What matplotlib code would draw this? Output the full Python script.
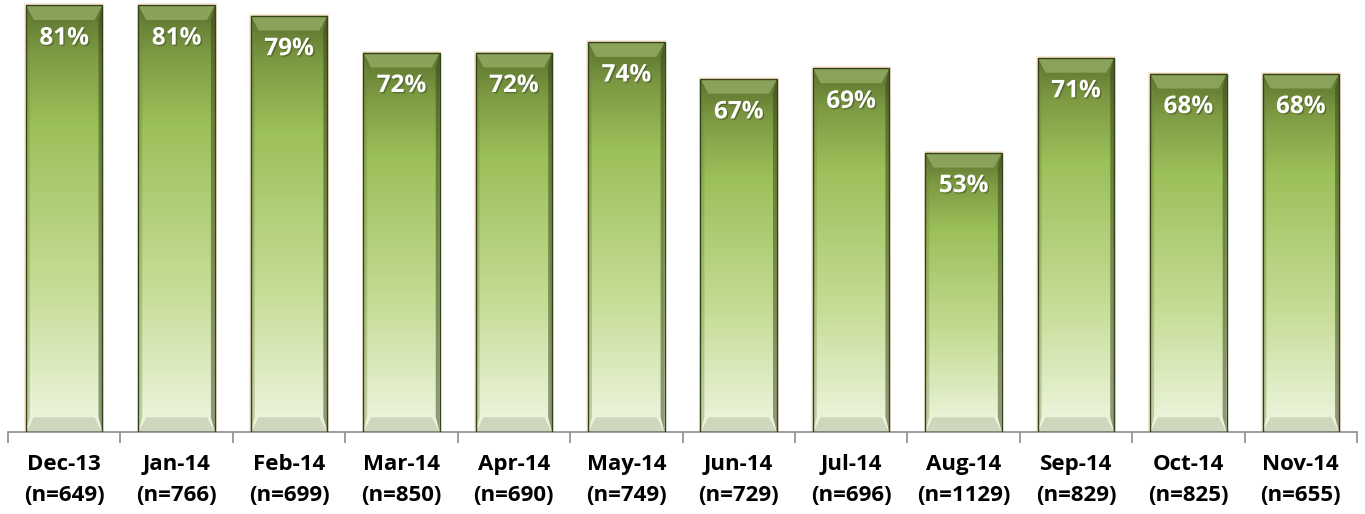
import matplotlib.pyplot as plt
import matplotlib.patches as patches
import matplotlib.patheffects as pe
from matplotlib.colors import LinearSegmentedColormap
import numpy as np

months = ['Dec-13', 'Jan-14', 'Feb-14', 'Mar-14', 'Apr-14', 'May-14',
          'Jun-14', 'Jul-14', 'Aug-14', 'Sep-14', 'Oct-14', 'Nov-14']
sample_sizes = [649, 766, 699, 850, 690, 749, 729, 696, 1129, 829, 825, 655]
shares = [0.81, 0.81, 0.79, 0.72, 0.72, 0.74, 0.67, 0.69, 0.53, 0.71, 0.68, 0.68]

plt.rcParams['font.family'] = ['Open Sans', 'DejaVu Sans']

fig = plt.figure(figsize=(13.65, 5.14), dpi=100)
ax = fig.add_axes([8 / 1365, 82 / 514, 1349 / 1365, 432 / 514])

# gradient: pale at the bottom, bright green, dark olive at the top
bar_cmap = LinearSegmentedColormap.from_list(
    'bar', [(0.0, '#f0f6e2'), (0.35, '#c4dc94'), (0.72, '#9cc05a'),
            (0.88, '#7f9d44'), (1.0, '#5b712d')])
grad = np.linspace(0, 1, 256).reshape(-1, 1)

width = 0.68
x = np.arange(len(months))
for xi, v in zip(x, shares):
    left = xi - width / 2
    # faint orange glow behind the bar
    glow = patches.Rectangle((left - 0.015, 0), width + 0.03, v + 0.004,
                             facecolor='#fbd9c0', edgecolor='none', alpha=0.6, zorder=1)
    ax.add_patch(glow)
    rect = patches.Rectangle((left, 0), width, v, facecolor='none',
                             edgecolor='#34421a', linewidth=1.0, zorder=3)
    ax.add_patch(rect)
    im = ax.imshow(grad, extent=(left, left + width, 0, v), origin='lower',
                   cmap=bar_cmap, aspect='auto', zorder=2)
    im.set_clip_path(rect)
    # bevels
    bev = 0.028
    bx = 0.07
    top_bevel = patches.Polygon([(left, v), (left + width, v), (left + width - bx, v - bev),
                                 (left + bx, v - bev)], closed=True,
                                facecolor='#8fa860', edgecolor='none', alpha=0.9, zorder=2.5)
    ax.add_patch(top_bevel)
    bot_bevel = patches.Polygon([(left, 0), (left + width, 0), (left + width - bx, bev),
                                 (left + bx, bev)], closed=True,
                                facecolor='#c2cbb0', edgecolor='none', alpha=0.7, zorder=2.5)
    ax.add_patch(bot_bevel)
    side_l = patches.Polygon([(left, 0), (left + bx * 0.5, bev), (left + bx * 0.5, v - bev), (left, v)],
                             closed=True, facecolor='#6f8a40', edgecolor='none', alpha=0.35, zorder=2.5)
    side_r = patches.Polygon([(left + width, 0), (left + width - bx * 0.5, bev),
                              (left + width - bx * 0.5, v - bev), (left + width, v)],
                             closed=True, facecolor='#34421a', edgecolor='none', alpha=0.5, zorder=2.5)
    ax.add_patch(side_l)
    ax.add_patch(side_r)
    ax.annotate('{:.0%}'.format(v), (xi, v), xytext=(0, -24), textcoords='offset points',
                ha='center', va='center', color='white', fontsize=17.5, fontweight='bold', zorder=4,
                path_effects=[pe.withSimplePatchShadow(offset=(1, -1), shadow_rgbFace='#3a4a1a', alpha=0.5)])

ax.set_xlim(-0.5, len(months) - 0.5)
ax.set_ylim(0, 0.82)

ax.set_xticks(x)
ax.set_xticklabels(['{}\n(n={})'.format(m, n) for m, n in zip(months, sample_sizes)],
                   fontsize=16, fontweight='bold', linespacing=1.6)
ax.tick_params(axis='x', which='major', length=0, pad=16)
ax.set_xticks(np.arange(-0.5, len(months)), minor=True)
ax.tick_params(axis='x', which='minor', length=8, width=1.2, color='#8c8c8c', direction='out')
ax.set_yticks([])

for side in ['top', 'right', 'left']:
    ax.spines[side].set_visible(False)
ax.spines['bottom'].set_color('#8c8c8c')
ax.spines['bottom'].set_linewidth(1.2)

fig.savefig('out.png', dpi=100)
